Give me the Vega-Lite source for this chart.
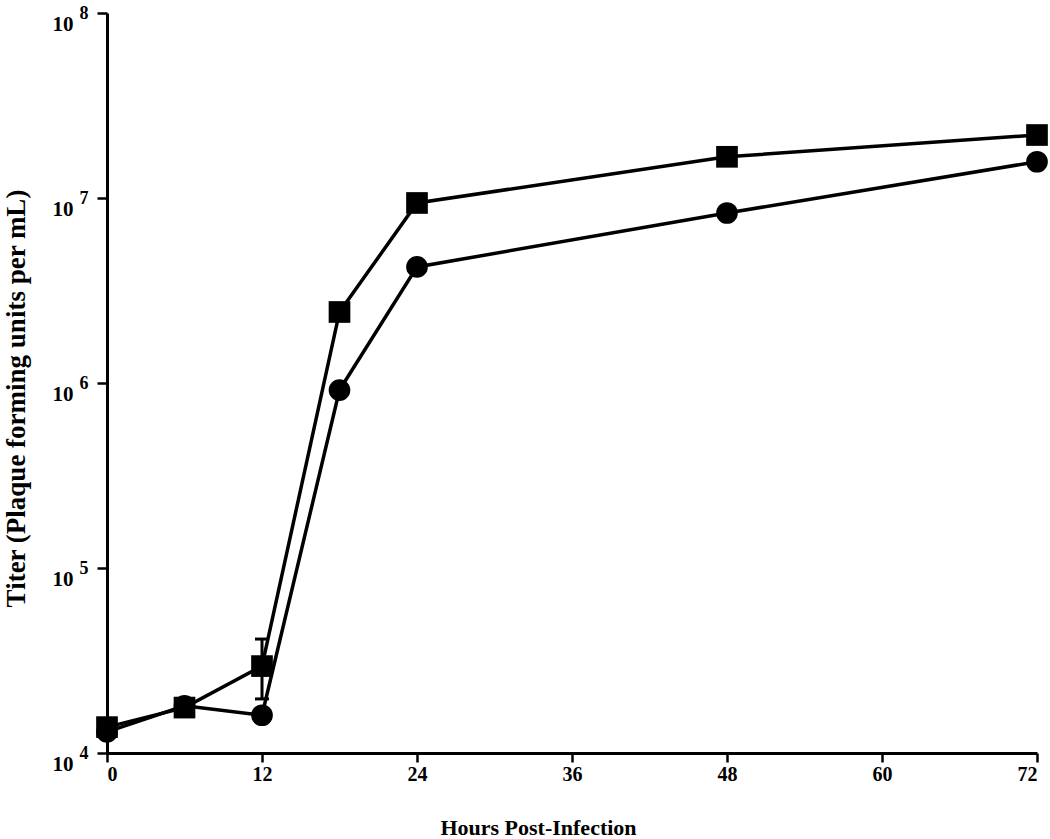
{
  "$schema": "https://vega.github.io/schema/vega-lite/v6.json",
  "autosize": {"type": "none"},
  "width": 930,
  "height": 740,
  "padding": {"left": 107, "top": 13, "right": 13, "bottom": 86},
  "background": "white",
  "config": {
    "view": {"stroke": null},
    "font": "Liberation Serif",
    "axis": {
      "grid": false,
      "domainColor": "black",
      "domainWidth": 3,
      "tickColor": "black",
      "tickWidth": 2.5,
      "labelFont": "Liberation Serif",
      "labelFontWeight": "bold",
      "labelColor": "black",
      "titleFont": "Liberation Serif",
      "titleFontWeight": "bold",
      "titleColor": "black"
    }
  },
  "resolve": {"scale": {"y": "shared"}, "axis": {"y": "independent"}},
  "datasets": {
    "titer": [
      {"hour": 0, "titer": 13800, "series": "A"},
      {"hour": 6, "titer": 17600, "series": "A"},
      {"hour": 12, "titer": 29500, "series": "A"},
      {"hour": 18, "titer": 2420000, "series": "A"},
      {"hour": 24, "titer": 9400000, "series": "A"},
      {"hour": 48, "titer": 16700000, "series": "A"},
      {"hour": 72, "titer": 21900000, "series": "A"},
      {"hour": 0, "titer": 13000, "series": "B"},
      {"hour": 6, "titer": 18000, "series": "B"},
      {"hour": 12, "titer": 16000, "series": "B"},
      {"hour": 18, "titer": 916000, "series": "B"},
      {"hour": 24, "titer": 4240000, "series": "B"},
      {"hour": 48, "titer": 8300000, "series": "B"},
      {"hour": 72, "titer": 15700000, "series": "B"}
    ],
    "err": [
      {"hour": 12, "lo": 19600, "hi": 41300}
    ]
  },
  "layer": [
    {
      "data": {"name": "err"},
      "mark": {"type": "errorbar", "color": "black", "rule": {"color": "black", "strokeWidth": 3, "opacity": 1}, "ticks": {"size": 14, "thickness": 3, "color": "black", "opacity": 1}},
      "encoding": {
        "x": {"field": "hour", "type": "quantitative", "scale": {"domain": [0, 72], "nice": false}},
        "y": {"field": "hi", "type": "quantitative", "scale": {"type": "log", "domain": [10000, 100000000], "nice": false}, "axis": null},
        "y2": {"field": "lo"}
      }
    },
    {
      "data": {"name": "titer"},
      "mark": {"type": "line", "color": "black", "strokeWidth": 3.5},
      "encoding": {
        "x": {"field": "hour", "type": "quantitative", "scale": {"domain": [0, 72], "nice": false},
          "axis": {"values": [0, 12, 24, 36, 48, 60, 72], "title": "Hours Post-Infection", "labelFontSize": 20, "tickSize": 9, "labelPadding": 2, "titleFontSize": 22, "titleX": 431, "titleY": 81, "titleAlign": "center", "titleBaseline": "alphabetic"}},
        "y": {"field": "titer", "type": "quantitative", "scale": {"type": "log", "domain": [10000, 100000000], "nice": false},
          "axis": {"orient": "left", "values": [10000, 100000, 1000000, 10000000, 100000000], "labelExpr": "'' + round(log(datum.value) / LN10)", "labelFontSize": 18, "labelOverlap": false, "labelBound": false, "labelPadding": 9, "labelBaseline": "middle", "tickSize": 10, "title": null}},
        "detail": {"field": "series"}
      }
    },
    {
      "data": {"name": "titer"},
      "mark": {"type": "point", "filled": true, "opacity": 1, "color": "black", "size": 470},
      "encoding": {
        "x": {"field": "hour", "type": "quantitative"},
        "y": {"field": "titer", "type": "quantitative",
          "axis": {"orient": "left", "values": [10000, 100000, 1000000, 10000000, 100000000], "labelExpr": "'10'", "domain": false, "ticks": false, "labelFontSize": 21, "labelOverlap": false, "labelBound": false, "labelPadding": 34, "labelBaseline": "top", "title": "Titer (Plaque forming units per mL)", "titleFontSize": 27, "titleAngle": -90, "titleX": -91, "titleY": 385, "titleAlign": "center", "titleBaseline": "middle"}},
        "shape": {"field": "series", "type": "nominal", "scale": {"domain": ["A", "B"], "range": ["square", "circle"]}, "legend": null}
      }
    }
  ]
}
